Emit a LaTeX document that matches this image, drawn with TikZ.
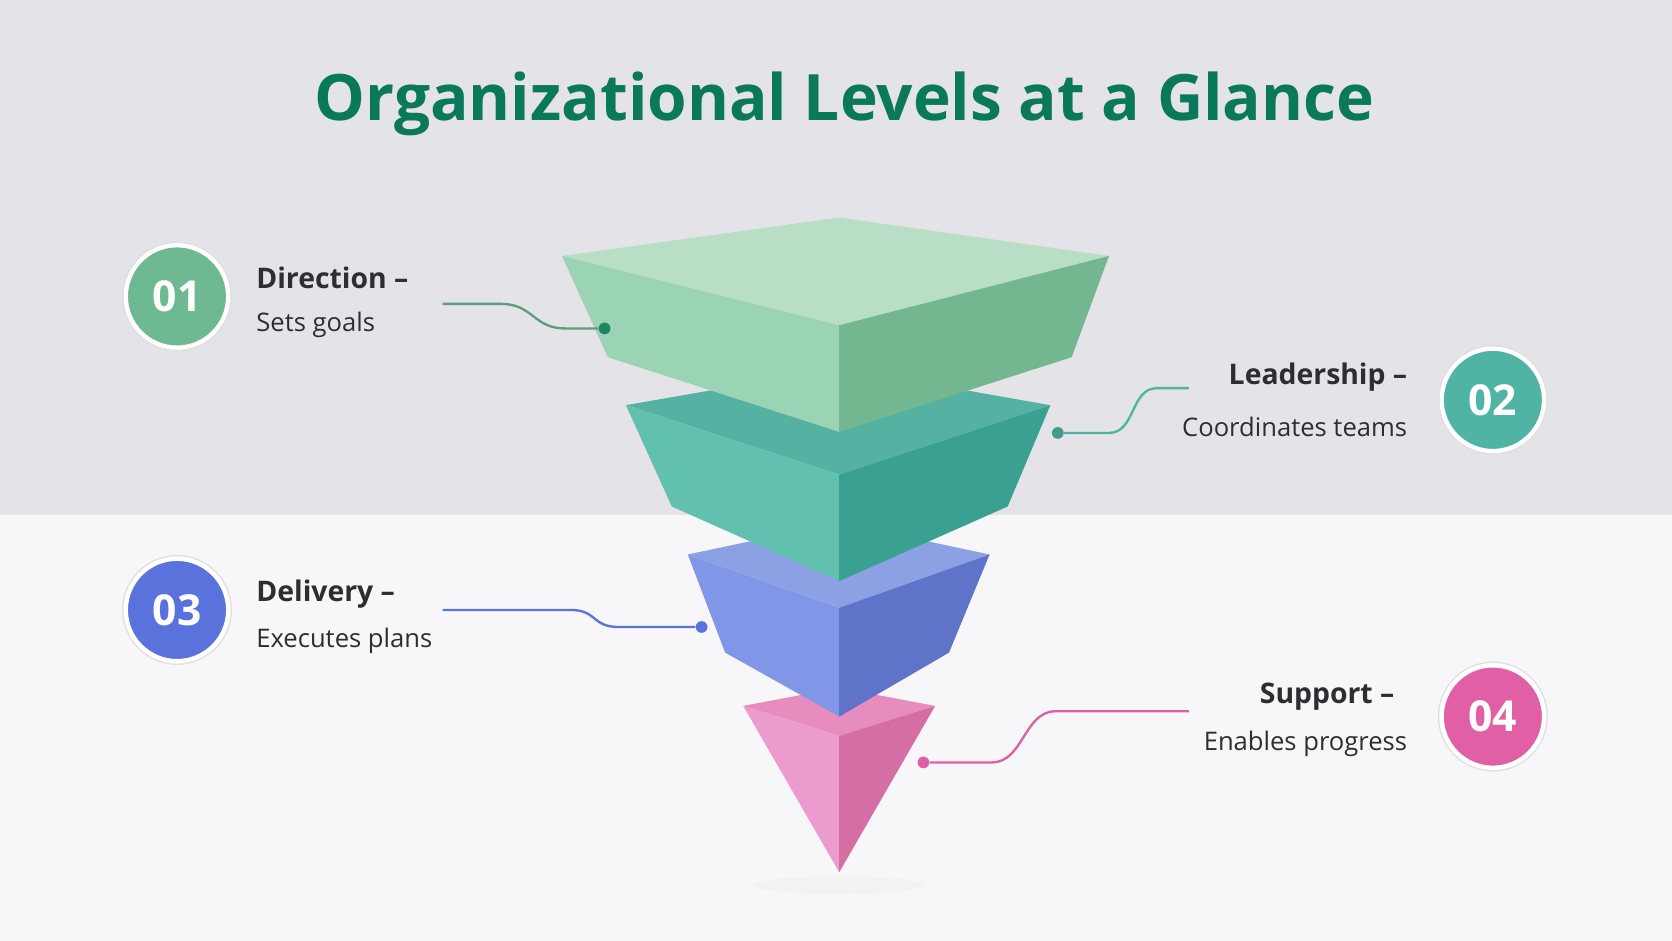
\documentclass[tikz,border=0pt]{standalone}
\usepackage{fontspec}
\setmainfont{Open Sans}
\definecolor{titlegreen}{RGB}{10,120,90}
\definecolor{bgtop}{RGB}{228,228,232}
\definecolor{bgbot}{RGB}{247,247,249}
\definecolor{txtdark}{RGB}{45,45,50}
\definecolor{cone}{RGB}{110,185,145}
\definecolor{ctwo}{RGB}{80,180,165}
\definecolor{cthree}{RGB}{90,115,220}
\definecolor{cfour}{RGB}{225,95,165}
\tikzset{
  badge/.style={circle,minimum size=48pt,inner sep=0pt,text=white,font=\fontsize{20}{20}\selectfont\bfseries,draw=white,line width=2pt},
  head/.style={inner sep=0pt,font=\fontsize{13.3}{13.3}\selectfont\bfseries,text=txtdark},
  sub/.style={inner sep=0pt,font=\fontsize{12}{12}\selectfont,text=txtdark},
  link/.style={line width=1.1pt},
  dot/.style={circle,inner sep=0pt,minimum size=5.5pt},
}
\begin{document}
\begin{tikzpicture}[x=0.5pt,y=-0.5pt]
%background
\fill[bgbot] (0,0) rectangle (1568,882);
\fill[bgtop] (0,0) rectangle (1568,483);
\useasboundingbox (0,0) rectangle (1568,882);

% Title
\node (title) at (792,97) {\fontsize{30}{30}\selectfont\bfseries\color{titlegreen}Organizational Levels at a Glance};

%shadow
\fill[black!5] (787,830) ellipse (80 and 8);

% Layer 4
\fill[fill={rgb,255:red,230;green,140;blue,190}] (697,662) -- (787,645) -- (877,662) -- (787,690) -- cycle;
\fill[fill={rgb,255:red,235;green,155;blue,205}] (697,662) -- (787,690) -- (787,818) -- cycle;
\fill[fill={rgb,255:red,212;green,110;blue,165}] (787,690) -- (877,662) -- (787,818) -- cycle;
% Layer 3
\fill[fill={rgb,255:red,140;green,160;blue,228}] (645,520) -- (787,490) -- (928,520) -- (787,570) -- cycle;
\fill[fill={rgb,255:red,130;green,150;blue,232}] (645,520) -- (787,570) -- (787,672) -- (680,612) -- cycle;
\fill[fill={rgb,255:red,95;green,115;blue,200}] (787,570) -- (928,520) -- (890,612) -- (787,672) -- cycle;
% Layer 2
\fill[fill={rgb,255:red,85;green,178;blue,162}] (587,380) -- (787,345) -- (985,380) -- (787,445) -- cycle;
\fill[fill={rgb,255:red,98;green,192;blue,175}] (587,380) -- (787,445) -- (787,545) -- (630,475) -- cycle;
\fill[fill={rgb,255:red,58;green,160;blue,145}] (787,445) -- (985,380) -- (945,475) -- (787,545) -- cycle;
% Layer 1
\fill[fill={rgb,255:red,184;green,222;blue,198}] (527,240) -- (787,204) -- (1040,240) -- (787,305) -- cycle;
\fill[fill={rgb,255:red,155;green,212;blue,180}] (527,240) -- (787,305) -- (787,405) -- (570,335) -- cycle;
\fill[fill={rgb,255:red,115;green,183;blue,145}] (787,305) -- (1040,240) -- (1005,335) -- (787,405) -- cycle;

% Badges
\node[badge,fill=cone] (n1) at (166,278) {01};
\node[badge,fill=ctwo] (n2) at (1400,375) {02};
\node[badge,fill=cthree] (n3) at (166,572) {03};
\node[badge,fill=cfour] (n4) at (1400,672) {04};
\foreach \n in {n1,n2,n3,n4} \draw[black!12,line width=0.6pt] (\n) circle (51);

% Labels
\node[head,anchor=west] (h1) at (240,261) {Direction –};
\node[sub,anchor=west] (s1) at (240,305) {Sets goals};
\node[head,anchor=east] (h2) at (1320,354) {Leadership –};
\node[sub,anchor=east] (s2) at (1320,400) {Coordinates teams};
\node[head,anchor=west] (h3) at (240,557) {Delivery –};
\node[sub,anchor=west] (s3) at (240,601) {Executes plans};
\node[head,anchor=east] (h4) at (1308,653) {Support –};
\node[sub,anchor=east] (s4) at (1320,698) {Enables progress};

% Connectors
\coordinate (a1) at (415,285);
\node[dot,fill=titlegreen!80!cone] (d1) at (567,308) {};
\coordinate (a2) at (1115,364);
\node[dot,fill=ctwo!85!black] (d2) at (992,406) {};
\coordinate (a3) at (415,572);
\node[dot,fill=cthree] (d3) at (658,588) {};
\coordinate (a4) at (1115,667);
\node[dot,fill=cfour] (d4) at (866,715) {};
\draw[link,cone!85!black] (a1) -- ++(55,0) .. controls +(30,0) and +(-30,0) .. ++(60,23) -- (d1);
\draw[link,ctwo] (d2) -- ++(48,0) .. controls +(25,0) and +(-25,0) .. ++(45,-42) -- (a2);
\draw[link,cthree] (a3) -- ++(120,0) .. controls +(25,0) and +(-25,0) .. ++(45,16) -- (d3);
\draw[link,cfour] (d4) -- ++(64,0) .. controls +(30,0) and +(-30,0) .. ++(60,-48) -- (a4);
\end{tikzpicture}
\end{document}
